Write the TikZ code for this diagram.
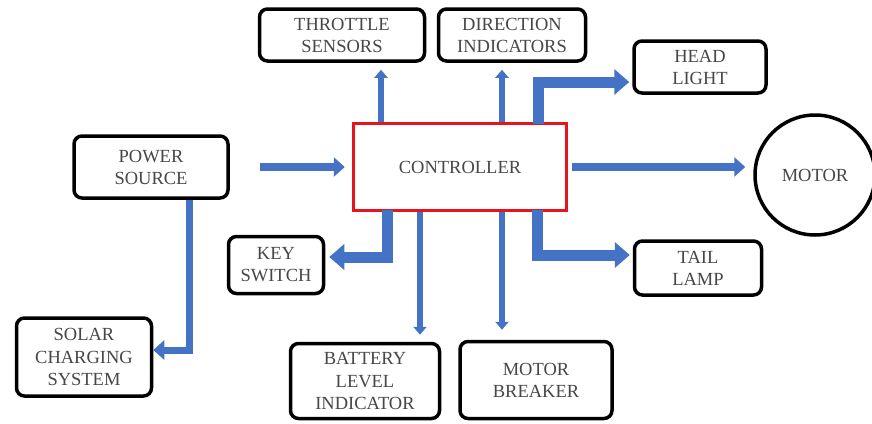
\documentclass[tikz,border=0pt]{standalone}
\usepackage{fontspec}
\setmainfont{Liberation Serif}
\usetikzlibrary{arrows.meta,calc}
\definecolor{arrowblue}{HTML}{4472C4}
\definecolor{ctrlred}{HTML}{E8141B}
\begin{document}
\begin{tikzpicture}[x=1pt,y=-1pt,
  box/.style={draw=black, line width=3.5pt, rounded corners=8pt, align=center,
    text=black!72, font=\rmfamily\fontsize{18.5}{22}\selectfont, inner sep=0pt},
  ctrlbox/.style={draw=ctrlred, line width=3.5pt, align=center,
    text=black!72, font=\rmfamily\fontsize{18.5}{22}\selectfont, inner sep=0pt,
    minimum width=213pt, minimum height=87pt},
  motorshape/.style={draw=black, line width=3.5pt, circle, minimum size=120pt,
    text=black!72, font=\rmfamily\fontsize{18.5}{22}\selectfont, inner sep=0pt},
  bigarrow/.style={draw=arrowblue, line width=11pt, -{Triangle[length=15pt,width=25pt]}},
  midarrow/.style={draw=arrowblue, line width=8pt, -{Triangle[length=11pt,width=19pt]}},
  thinarrow/.style={draw=arrowblue, line width=6pt, -{Triangle[length=8pt,width=13pt]}}
]
\useasboundingbox (0,0) rectangle (872,423);
\fill[white] (0,0) rectangle (872,423);

\node[ctrlbox] (ctrl) at (460,167) {CONTROLLER};
\node[box, minimum width=165pt, minimum height=52pt] (throttle) at (342,35) {THROTTLE\\SENSORS};
\node[box, minimum width=147pt, minimum height=52pt] (direction) at (512,35) {DIRECTION\\INDICATORS};
\node[box, minimum width=132pt, minimum height=52pt] (head) at (700,67) {HEAD\\LIGHT};
\node[box, minimum width=154pt, minimum height=62pt] (power) at (151,167) {POWER\\SOURCE};
\node[motorshape] (motor) at (815,175) {MOTOR};
\node[box, minimum width=95pt, minimum height=57pt] (key) at (276,265) {KEY\\SWITCH};
\node[box, minimum width=127pt, minimum height=54pt] (tail) at (698,268) {TAIL\\LAMP};
\node[box, minimum width=135pt, minimum height=78pt, font=\rmfamily\fontsize{18.5}{22.5}\selectfont] (solar) at (84,357) {SOLAR\\CHARGING\\SYSTEM};
\node[box, minimum width=149pt, minimum height=75pt, font=\rmfamily\fontsize{18.5}{22.5}\selectfont] (battery) at (365,381) {BATTERY\\LEVEL\\INDICATOR};
\node[box, minimum width=152pt, minimum height=77pt] (breaker) at (536,380) {MOTOR\\BREAKER};

% connectors
\draw[midarrow, shorten <=30pt, shorten >=7pt] (power.east) -- (ctrl.west);
\draw[midarrow, shorten <=4pt, shorten >=8pt] (ctrl.east) -- (ctrl.east -| motor.west);
\draw[midarrow, line width=7pt] ([xshift=38pt]power.south) |- ([yshift=7pt]solar.east);
\draw[bigarrow, shorten <=-2pt, shorten >=4pt] ([xshift=-73pt]ctrl.south) |- ([yshift=8pt]key.east);
\draw[thinarrow, shorten >=7pt] ([xshift=-40pt]ctrl.south) -- ([xshift=-40pt]ctrl.south |- battery.north);
\draw[thinarrow, shorten >=10pt] ([xshift=42pt]ctrl.south) -- ([xshift=42pt]ctrl.south |- breaker.north);
\draw[bigarrow, shorten <=-2pt, shorten >=3pt] ([xshift=77pt]ctrl.south) |- ([yshift=13pt]tail.west);
\draw[thinarrow, shorten >=7pt] ([xshift=-79pt]ctrl.north) -- ([xshift=-79pt]ctrl.north |- throttle.south);
\draw[thinarrow, shorten >=7pt] ([xshift=42pt]ctrl.north) -- ([xshift=42pt]ctrl.north |- direction.south);
\draw[bigarrow, shorten <=-2pt, shorten >=3pt] ([xshift=78pt]ctrl.north) |- ([yshift=-15pt]head.west);
\end{tikzpicture}
\end{document}
